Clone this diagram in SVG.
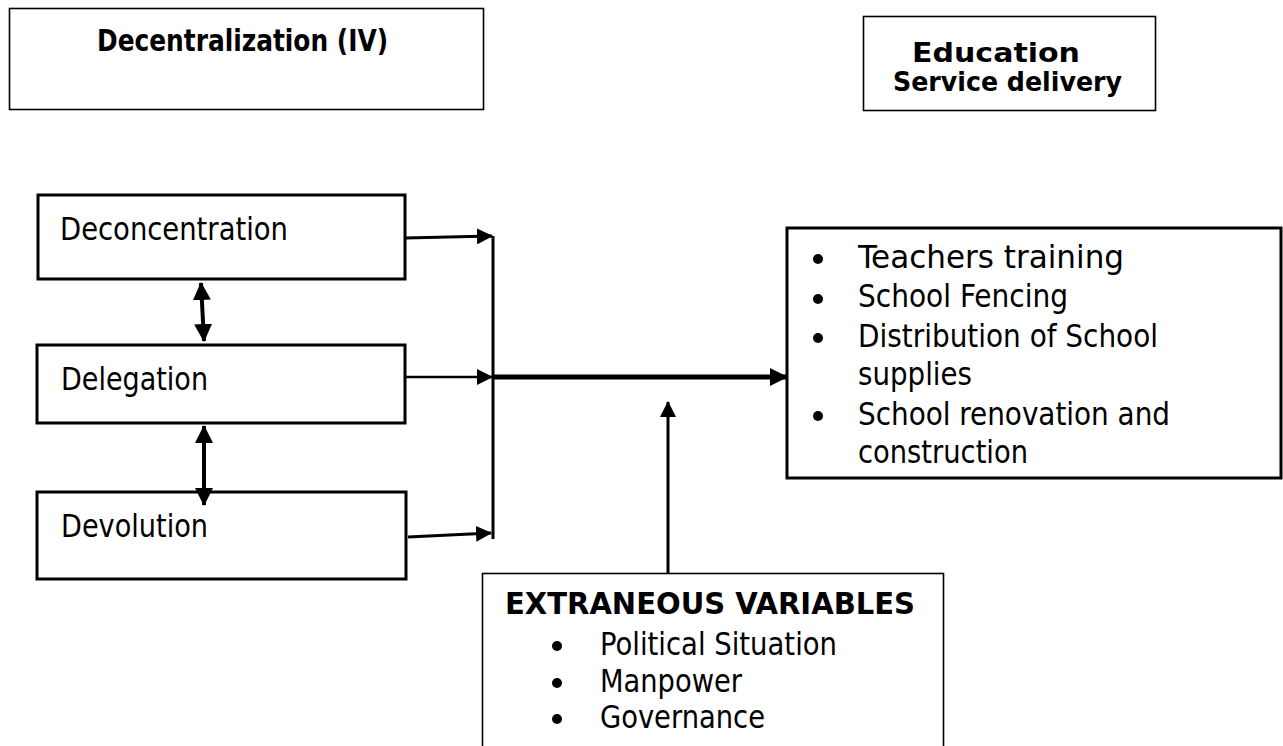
<svg xmlns="http://www.w3.org/2000/svg" width="1283" height="746" viewBox="0 0 1283 746">
<style>
.box{fill:#fff;stroke:#000;stroke-width:3}
.thin{fill:#fff;stroke:#000;stroke-width:1.6}
.t{font-family:"DejaVu Sans Condensed","DejaVu Sans",sans-serif;font-size:32px;fill:#000}
.b{font-family:"DejaVu Sans Condensed","DejaVu Sans",sans-serif;font-size:31px;font-weight:bold;fill:#000}
.bs{font-family:"DejaVu Sans Condensed","DejaVu Sans",sans-serif;font-size:27px;font-weight:bold;fill:#000}
.ln{stroke:#000;fill:none}
</style>
<defs>
<marker id="ah" markerWidth="16" markerHeight="16" refX="15" refY="8" orient="auto" markerUnits="userSpaceOnUse" viewBox="0 0 16 16">
<path d="M0,0 L16,8 L0,16 Z" fill="#000"/>
</marker>
<marker id="ahb" markerWidth="18" markerHeight="18" refX="17" refY="9" orient="auto" markerUnits="userSpaceOnUse" viewBox="0 0 18 18">
<path d="M0,0 L18,9 L0,18 Z" fill="#000"/>
</marker>
<marker id="ahs" markerWidth="18" markerHeight="18" refX="17" refY="9" orient="auto-start-reverse" markerUnits="userSpaceOnUse" viewBox="0 0 18 18">
<path d="M0,0 L18,9 L0,18 Z" fill="#000"/>
</marker>
</defs>

<g id="header-iv">
<rect class="thin" x="9.5" y="8.5" width="474" height="101"/>
<text class="b" x="97" y="51" textLength="291" lengthAdjust="spacingAndGlyphs">Decentralization (IV)</text>
</g>

<g id="header-dv">
<rect class="thin" x="863.5" y="16.5" width="292" height="94"/>
<text class="bs" x="912" y="62" textLength="168" lengthAdjust="spacingAndGlyphs">Education</text>
<text class="bs" x="893" y="91" textLength="229" lengthAdjust="spacingAndGlyphs">Service delivery</text>
</g>

<g id="deconcentration">
<rect class="box" x="38" y="195" width="367" height="84"/>
<text class="t" x="60" y="240" textLength="228" lengthAdjust="spacingAndGlyphs">Deconcentration</text>
</g>

<g id="delegation">
<rect class="box" x="37" y="345" width="368" height="78"/>
<text class="t" x="61" y="390" textLength="147" lengthAdjust="spacingAndGlyphs">Delegation</text>
</g>

<g id="devolution">
<rect class="box" x="37" y="492" width="369" height="87"/>
<text class="t" x="61" y="537" textLength="147" lengthAdjust="spacingAndGlyphs">Devolution</text>
</g>

<g id="outcomes">
<rect class="box" x="787" y="228" width="494" height="250"/>
<g fill="#000">
<circle cx="818" cy="259" r="5"/>
<circle cx="818" cy="299" r="5"/>
<circle cx="818" cy="338" r="5"/>
<circle cx="818" cy="416" r="5"/>
</g>
<text class="t" x="858" y="268" textLength="266" lengthAdjust="spacingAndGlyphs">Teachers training</text>
<text class="t" x="858" y="307" textLength="210" lengthAdjust="spacingAndGlyphs">School Fencing</text>
<text class="t" x="858" y="347" textLength="300" lengthAdjust="spacingAndGlyphs">Distribution of School</text>
<text class="t" x="858" y="385" textLength="114" lengthAdjust="spacingAndGlyphs">supplies</text>
<text class="t" x="858" y="425" textLength="312" lengthAdjust="spacingAndGlyphs">School renovation and</text>
<text class="t" x="858" y="463" textLength="170" lengthAdjust="spacingAndGlyphs">construction</text>
</g>

<g id="extraneous">
<rect class="thin" x="482.5" y="573.5" width="461" height="190"/>
<text class="b" x="505" y="614" textLength="410" lengthAdjust="spacingAndGlyphs">EXTRANEOUS VARIABLES</text>
<g fill="#000">
<circle cx="557" cy="646" r="5"/>
<circle cx="557" cy="683" r="5"/>
<circle cx="557" cy="719" r="5"/>
</g>
<text class="t" x="600" y="655" textLength="237" lengthAdjust="spacingAndGlyphs">Political Situation</text>
<text class="t" x="600" y="692" textLength="142" lengthAdjust="spacingAndGlyphs">Manpower</text>
<text class="t" x="600" y="728" textLength="165" lengthAdjust="spacingAndGlyphs">Governance</text>
</g>

<g id="connectors">
<line class="ln" stroke-width="4" x1="201" y1="283" x2="204" y2="341" marker-start="url(#ahs)" marker-end="url(#ahs)"/>
<line class="ln" stroke-width="4" x1="204" y1="426" x2="204" y2="505" marker-start="url(#ahs)" marker-end="url(#ahs)"/>
<line class="ln" stroke-width="3" x1="405" y1="238" x2="492" y2="236" marker-end="url(#ah)"/>
<line class="ln" stroke-width="2.5" x1="405" y1="377" x2="492" y2="377" marker-end="url(#ah)"/>
<line class="ln" stroke-width="3" x1="408" y1="537" x2="491" y2="533" marker-end="url(#ah)"/>
<line class="ln" stroke-width="3" x1="493" y1="236" x2="493" y2="539"/>
<line class="ln" stroke-width="5" x1="493" y1="377" x2="787" y2="377" marker-end="url(#ahb)"/>
<line class="ln" stroke-width="3" x1="668" y1="573" x2="668" y2="402" marker-end="url(#ah)"/>
</g>
</svg>
